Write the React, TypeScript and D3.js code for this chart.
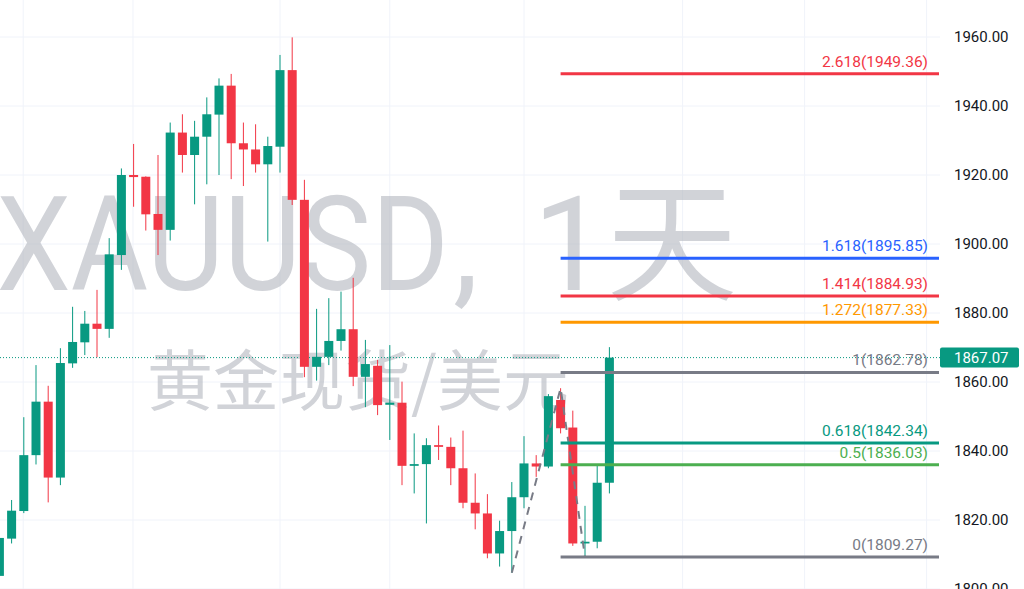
import React from "react";
import * as d3 from "d3";

// Daily candles (XAUUSD), left to right
const opens = [1803.8, 1814.6, 1822.6, 1838.8, 1854.3, 1832.3, 1865.4, 1871.5, 1876.9, 1875.4, 1896.8, 1920.0, 1919.5, 1908.7, 1904.1, 1932.3, 1925.8, 1931.1, 1937.5, 1945.9, 1929.2, 1927.4, 1923.1, 1928.2, 1950.4, 1912.8, 1864.4, 1867.3, 1871.9, 1875.3, 1861.5, 1864.7, 1853.4, 1854.0, 1835.7, 1836.2, 1841.7, 1841.2, 1835.0, 1825.0, 1821.9, 1810.3, 1816.8, 1826.6, 1836.4, 1835.5, 1854.8, 1846.8, 1813.2, 1813.7, 1830.8];
const highs = [1815.5, 1825.8, 1849.8, 1864.9, 1858.9, 1869.8, 1881.8, 1880.6, 1886.7, 1901.7, 1921.9, 1929.0, 1919.6, 1925.8, 1935.2, 1937.6, 1935.7, 1942.5, 1948.0, 1949.3, 1935.2, 1934.7, 1931.1, 1954.8, 1959.9, 1918.6, 1881.2, 1884.3, 1886.2, 1890.2, 1872.2, 1866.4, 1870.7, 1860.1, 1845.1, 1843.7, 1847.4, 1843.9, 1845.9, 1833.5, 1827.5, 1819.8, 1831.0, 1844.3, 1838.8, 1856.5, 1858.2, 1851.7, 1824.1, 1835.7, 1870.1];
const lows = [1802.5, 1813.2, 1822.0, 1836.1, 1825.1, 1830.1, 1864.1, 1867.8, 1867.2, 1872.8, 1892.5, 1910.8, 1903.9, 1896.8, 1901.0, 1920.7, 1911.5, 1917.3, 1920.0, 1918.8, 1916.8, 1920.7, 1900.7, 1920.7, 1911.3, 1861.4, 1860.4, 1864.9, 1869.1, 1858.8, 1852.7, 1850.4, 1843.2, 1830.1, 1827.7, 1819.0, 1837.4, 1830.1, 1823.4, 1817.3, 1808.9, 1806.5, 1804.7, 1823.4, 1832.5, 1835.0, 1845.1, 1812.5, 1809.27, 1811.8, 1827.7];
const closes = [1814.8, 1822.7, 1838.8, 1854.3, 1832.3, 1865.5, 1871.6, 1876.9, 1875.4, 1897.0, 1920.0, 1919.4, 1908.6, 1904.1, 1932.3, 1925.8, 1931.1, 1937.6, 1945.9, 1929.2, 1927.4, 1923.1, 1928.4, 1950.4, 1912.8, 1864.4, 1867.3, 1871.9, 1875.3, 1861.5, 1865.2, 1853.3, 1854.0, 1835.7, 1836.2, 1841.7, 1841.2, 1835.0, 1825.0, 1821.9, 1810.3, 1816.8, 1826.6, 1836.4, 1835.5, 1855.9, 1846.6, 1813.2, 1813.7, 1830.8, 1867.07];

// Trend-based fib extension anchors (candle index, price)
const trendIdx = [42, 46, 48];
const trendPrice = [1804.69, 1858.2, 1809.27];

const fibRatios = ["2.618", "1.618", "1.414", "1.272", "1", "0.618", "0.5", "0"];
const fibPrices = [1949.36, 1895.85, 1884.93, 1877.33, 1862.78, 1842.34, 1836.03, 1809.27];
const fibColors = ["#f23645", "#2962ff", "#f23645", "#ff9800", "#787b86", "#089981", "#4caf50", "#787b86"];

const priceTicks = [1800, 1820, 1840, 1860, 1880, 1900, 1920, 1940, 1960];
// vertical time grid positions, in candle-index units
const timeGridIdx = [1.95, 10.95, 23, 32, 43, 56, 66, 76];

const lastPrice = 1867.07;

const watermarkSymbol = "XAUUSD";
const watermarkSep = ",";
const watermarkInterval = "1天";
const watermarkDesc = "黄金现货/美元";

const W = 1024;
const H = 589;
const PANE_R = 940;

export default function App() {
  const y = d3.scaleLinear().domain([1800, 1960]).range([589, 37]);
  const x = d3.scaleLinear().domain([0, 50]).range([-0.6, 609.4]);
  const bodyW = 9;
  const up = "#089981";
  const down = "#f23645";
  const font = "Roboto, 'Noto Sans', sans-serif";
  const trendLine = d3.line<number>()
    .x((d) => x(trendIdx[d]))
    .y((d) => y(trendPrice[d]));

  return (
    <svg
      width={W}
      height={H}
      style={{ position: "fixed", left: 0, top: 0, background: "#fff" }}
    >
      {/* grid */}
      <g>
        {priceTicks.map((t) => (
          <line key={"h" + t} x1={0} x2={PANE_R} y1={y(t)} y2={y(t)} stroke="#f0f3fa" strokeWidth={1} />
        ))}
        {timeGridIdx.map((t) => (
          <line key={"v" + t} x1={x(t)} x2={x(t)} y1={0} y2={H} stroke="#f0f3fa" strokeWidth={1} />
        ))}
      </g>

      {/* watermark */}
      <g fill="#b2b5be" fillOpacity={0.6}>
        <text
          transform="translate(449,290) scale(0.905,1)"
          textAnchor="end"
          fontSize={131}
          fontFamily="Roboto, sans-serif"
        >
          {watermarkSymbol}
        </text>
        <text
          x={453}
          y={290}
          fontSize={131}
          fontFamily="Roboto, sans-serif"
        >
          {watermarkSep}
        </text>
        <text
          x={533}
          y={290}
          textAnchor="start"
          fontSize={131}
          fontFamily="Roboto, 'Noto Sans CJK SC', sans-serif"
        >
          {watermarkInterval}
        </text>
        <text
          x={358}
          y={405}
          textAnchor="middle"
          fontSize={66}
          fontFamily="'Noto Sans CJK SC', sans-serif"
        >
          {watermarkDesc}
        </text>
      </g>

      {/* last price dotted line */}
      <line
        x1={0}
        x2={PANE_R}
        y1={y(lastPrice)}
        y2={y(lastPrice)}
        stroke={up}
        strokeWidth={1}
        strokeDasharray="1 2"
      />

      {/* candles */}
      <g>
        {opens.map((o, i) => {
          const c = closes[i];
          const col = c >= o ? up : down;
          const top = y(Math.max(o, c));
          const bot = y(Math.min(o, c));
          return (
            <g key={i}>
              <line x1={x(i)} x2={x(i)} y1={y(highs[i])} y2={y(lows[i])} stroke={col} strokeWidth={1} />
              <rect x={x(i) - bodyW / 2} y={top} width={bodyW} height={Math.max(1, bot - top)} fill={col} />
            </g>
          );
        })}
      </g>

      {/* trend dashed path */}
      <path
        d={trendLine([0, 1, 2]) || ""}
        fill="none"
        stroke="#787b86"
        strokeWidth={2}
        strokeDasharray="8 7"
      />

      {/* fib levels */}
      <g>
        {fibPrices.map((p, i) => (
          <g key={"f" + i}>
            <line
              x1={x(trendIdx[1])}
              x2={PANE_R - 1}
              y1={y(p)}
              y2={y(p)}
              stroke={fibColors[i]}
              strokeWidth={3}
            />
            <text
              x={928}
              y={y(p) - 7}
              textAnchor="end"
              fontSize={15.5}
              fontFamily={font}
              fill={fibColors[i]}
            >
              {`${fibRatios[i]}(${p.toFixed(2)})`}
            </text>
          </g>
        ))}
      </g>

      {/* right price axis */}
      <g>
        {priceTicks.map((t) => (
          <text
            key={"a" + t}
            x={954}
            y={y(t)}
            dy="0.35em"
            fontSize={15}
            fontFamily={font}
            fill="#131722"
          >
            {t.toFixed(2)}
          </text>
        ))}
        <rect x={940} y={y(lastPrice) - 10} width={79} height={20} rx={2} fill={up} />
        <text
          x={954}
          y={y(lastPrice)}
          dy="0.35em"
          fontSize={15}
          fontFamily={font}
          fill="#ffffff"
        >
          {lastPrice.toFixed(2)}
        </text>
      </g>
    </svg>
  );
}
